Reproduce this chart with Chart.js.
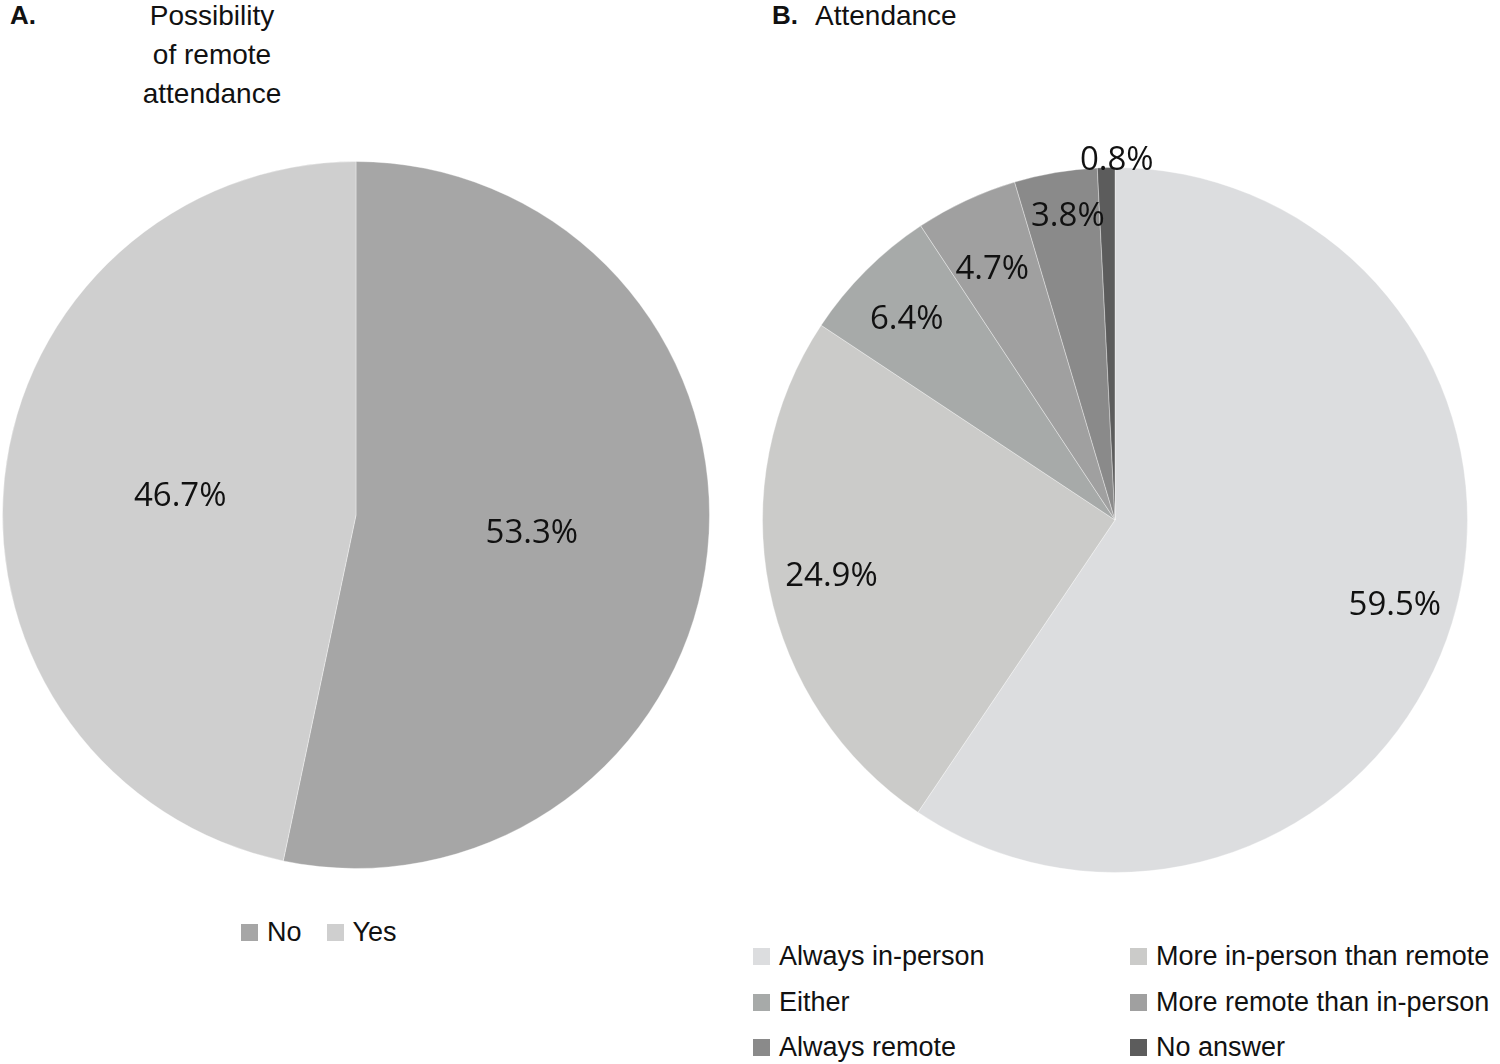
<!DOCTYPE html>
<html>
<head>
<meta charset="utf-8">
<script src="https://cdn.jsdelivr.net/npm/chart.js@4.4.1/dist/chart.umd.min.js"></script>
<style>
    body { margin: 0; background: #fff; width: 1500px; height: 1064px; overflow: hidden; position: relative; font-family: "Liberation Sans", Arial, sans-serif; }
    .title { position: absolute; font-size: 28px; color: #111; line-height: 39px; }
    .tag { position: absolute; font-size: 26px; font-weight: bold; color: #111; }
    canvas { position: absolute; }
    .legend { position: absolute; font-size: 27px; color: #111; }
    .legend .item { display: flex; align-items: center; white-space: nowrap; }
    .legend .box { width: 17px; height: 17px; margin-right: 9px; flex: none; }
</style>
</head>
<body>
<div class="tag" style="left:10px; top:0px;">A.</div>
<div class="title" style="left:112px; top:-4px; width:200px; text-align:center;">Possibility<br>of remote<br>attendance</div>
<div class="tag" style="left:772px; top:0px;">B.</div>
<div class="title" style="left:815px; top:-4px;">Attendance</div>

<canvas id="pieA"></canvas>
<canvas id="pieB"></canvas>

<div id="legendA" class="legend" style="left:241px; top:917px; display:flex; gap:0 25px;"></div>
<div id="legendB" class="legend" style="left:753px; top:934px; display:grid; grid-template-columns:377px 377px; grid-auto-rows:45.5px;"></div>

<script>
// Chart A: possibility of remote attendance
const remoteLabels = ['No', 'Yes'];
const remoteValues = [53.3, 46.7];
const remoteColors = ['#a6a6a6', '#cfcfcf'];

// Chart B: attendance
const attendLabels = ['Always in-person', 'More in-person than remote', 'Either', 'More remote than in-person', 'Always remote', 'No answer'];
const attendValues = [59.5, 24.9, 6.4, 4.7, 3.8, 0.8];
const attendColors = ['#dcdddf', '#cbcbc9', '#a7aaa9', '#a0a0a0', '#8a8a8a', '#5c5c5c'];

// label distance from centre, as a fraction of the radius, per slice
const labelPosA = [0.5, 0.5];
const labelPosB = [0.83, 0.82, 0.82, 0.79, 0.87, 1.02];
// small angular nudge per label (radians)
const labelTurnB = [0, 0, -0.02, -0.02, 0.015, 0.03];

const pctLabels = {
    id: 'pctLabels',
    afterDatasetsDraw(chart, args, opts) {
        const ctx = chart.ctx;
        const meta = chart.getDatasetMeta(0);
        const values = chart.data.datasets[0].data;
        ctx.save();
        ctx.font = '33px "Open Sans", "Noto Sans", sans-serif';
        ctx.fillStyle = '#111';
        ctx.textAlign = 'center';
        ctx.textBaseline = 'middle';
        meta.data.forEach((arc, i) => {
            const p = arc.getProps(['x', 'y', 'startAngle', 'endAngle', 'outerRadius'], true);
            const mid = (p.startAngle + p.endAngle) / 2 + (opts.turn ? opts.turn[i] : 0);
            const r = p.outerRadius * opts.pos[i];
            ctx.fillText(values[i].toFixed(1) + '%', p.x + Math.cos(mid) * r, p.y + Math.sin(mid) * r);
        });
        ctx.restore();
    }
};

function makePie(id, left, top, size, pad, labels, values, colors, pos, turn) {
    const cv = document.getElementById(id);
    cv.width = size;
    cv.height = size;
    cv.style.left = left + 'px';
    cv.style.top = top + 'px';
    cv.style.width = size + 'px';
    cv.style.height = size + 'px';
    return new Chart(cv, {
        type: 'pie',
        data: {
            labels: labels,
            datasets: [{
                data: values,
                backgroundColor: colors,
                borderColor: 'rgba(255,255,255,0.35)',
                borderWidth: 1
            }]
        },
        options: {
            responsive: false,
            animation: false,
            devicePixelRatio: 1,
            layout: { padding: pad },
            plugins: {
                legend: { display: false },
                tooltip: { enabled: false },
                pctLabels: { pos: pos, turn: turn }
            }
        },
        plugins: [pctLabels]
    });
}

const chartA = makePie('pieA', 0, 159, 712, 2, remoteLabels, remoteValues, remoteColors, labelPosA);
const chartB = makePie('pieB', 732, 137, 766, 30, attendLabels, attendValues, attendColors, labelPosB, labelTurnB);

function buildLegend(el, labels, colors) {
    labels.forEach((lab, i) => {
        const item = document.createElement('div');
        item.className = 'item';
        const box = document.createElement('span');
        box.className = 'box';
        box.style.background = colors[i];
        const txt = document.createElement('span');
        txt.textContent = lab;
        item.appendChild(box);
        item.appendChild(txt);
        el.appendChild(item);
    });
}

buildLegend(document.getElementById('legendA'), remoteLabels, remoteColors);
buildLegend(document.getElementById('legendB'), attendLabels, attendColors);
</script>
</body>
</html>
